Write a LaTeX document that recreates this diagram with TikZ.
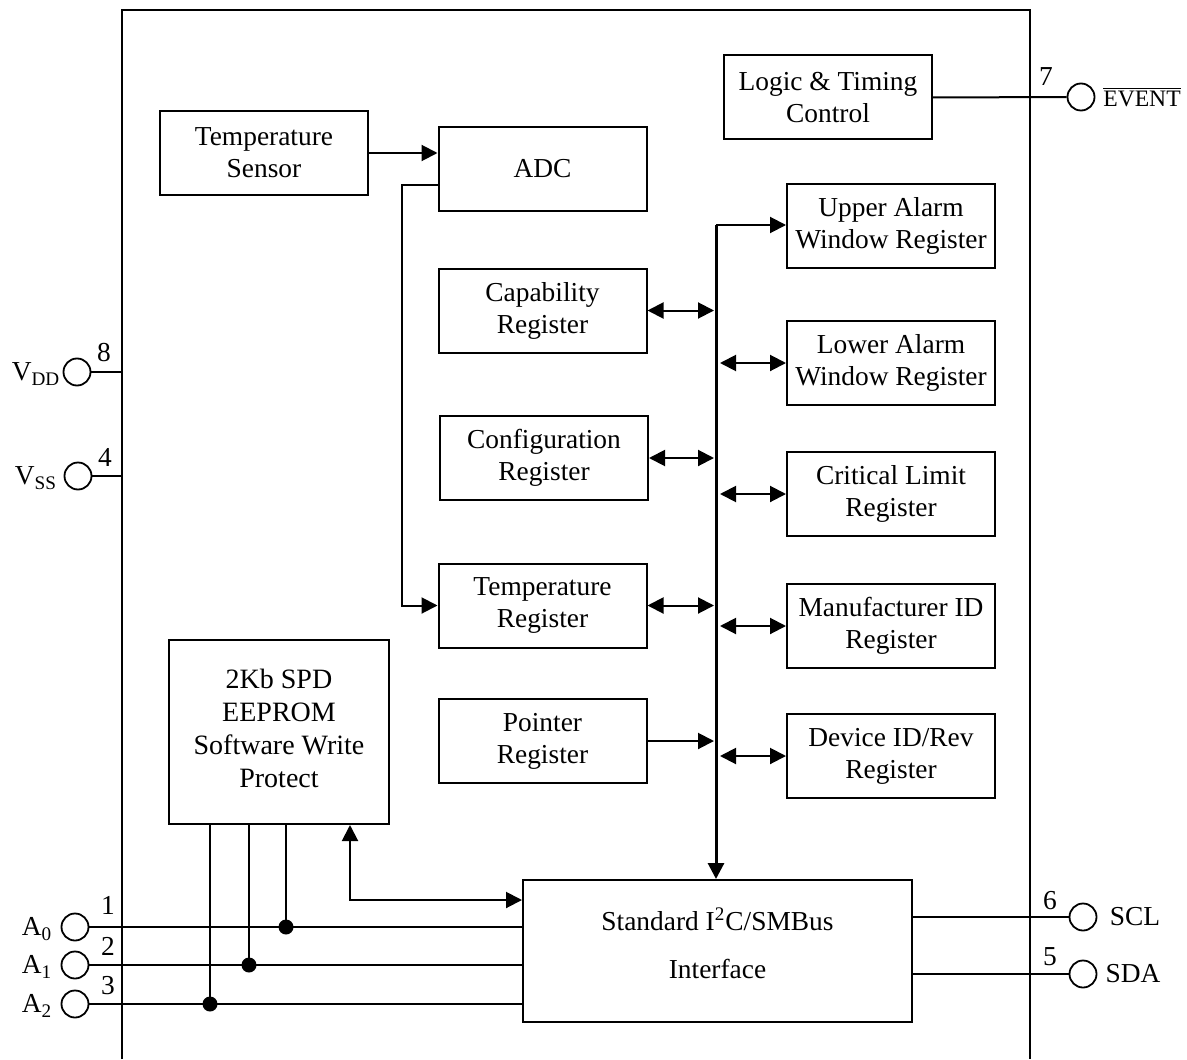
\documentclass[tikz,border=0pt]{standalone}
\usepackage{fontspec}
\setmainfont{Liberation Serif}
\usetikzlibrary{arrows.meta}
\begin{document}
\begin{tikzpicture}[x=0.5pt,y=-0.5pt,
  every node/.style={font=\fontsize{13.7}{16}\selectfont},
  blk/.style={draw,line width=1pt,align=center,inner sep=0pt,minimum width=104pt,minimum height=42pt},
  wire/.style={line width=1pt},
  arr/.style={wire,-{Triangle[length=8pt,width=8pt]}},
  barr/.style={wire,{Triangle[length=8pt,width=8pt]}-{Triangle[length=8pt,width=8pt]}},
  pin/.style={draw,circle,line width=0.9pt,minimum size=13.5pt,inner sep=0pt},
  jdot/.style={fill,circle,minimum size=7.5pt,inner sep=0pt},
  lbl/.style={inner sep=0pt}]
\useasboundingbox (0,0) rectangle (1187,1059);
% chip outline
\draw[wire] (122,1059) -- (122,10) -- (1030,10) -- (1030,1059);
% blocks
\node[blk] (logic) at (828,97.5) {Logic \& Timing\\Control};
\node[blk] (tsens) at (264,153) {Temperature\\Sensor};
\node[blk] (adc) at (542.5,169) {ADC};
\node[blk] (upper) at (891,226) {Upper Alarm\\Window Register};
\node[blk] (cap) at (542.5,310.5) {Capability\\Register};
\node[blk] (lower) at (891,363) {Lower Alarm\\Window Register};
\node[blk] (conf) at (544,458) {Configuration\\Register};
\node[blk] (crit) at (891,494) {Critical Limit\\Register};
\node[blk] (treg) at (542.5,605.5) {Temperature\\Register};
\node[blk] (manu) at (891,626) {Manufacturer ID\\Register};
\node[blk] (ptr) at (542.5,741) {Pointer\\Register};
\node[blk] (dev) at (891,756) {Device ID/Rev\\Register};
\node[blk,minimum width=110pt,minimum height=92pt] (eeprom) at (279,732) {};
\node[lbl,align=center,font=\fontsize{14}{16.5}\selectfont] (eetext) at (279,728) {2Kb SPD\\EEPROM\\Software Write\\Protect};
\node[blk,minimum width=194.5pt,minimum height=71pt] (iface) at (717.5,951) {};
\node[lbl,align=center] (iftext) at (717.5,943) {Standard I\textsuperscript{2}C/SMBus\\[8pt]Interface};
% pins
\node[pin] (vdd) at (77,372) {};
\node[pin] (vss) at (78,476) {};
\node[pin] (a0) at (75,927) {};
\node[pin] (a1) at (75,965) {};
\node[pin] (a2) at (75,1004) {};
\node[pin] (ev) at (1081,97) {};
\node[pin] (scl) at (1083,917) {};
\node[pin] (sda) at (1083,974) {};
% pin labels
\node[lbl] (lvdd) at (36,374) {V\textsubscript{DD}};
\node[lbl] (lvss) at (36,478) {V\textsubscript{SS}};
\node[lbl] (la0) at (37,929) {A\textsubscript{0}};
\node[lbl] (la1) at (37,967) {A\textsubscript{1}};
\node[lbl] (la2) at (37,1006) {A\textsubscript{2}};
\node[lbl,font=\fontsize{11.8}{14}\selectfont] (lev) at (1142,97) {$\overline{\mbox{EVENT}}$};
\node[lbl] (lscl) at (1135,917) {SCL};
\node[lbl] (lsda) at (1133,974) {SDA};
\node[lbl] (n8) at (104,353) {8};
\node[lbl] (n4) at (105,457) {4};
\node[lbl] (n1) at (108,905) {1};
\node[lbl] (n2) at (108,946) {2};
\node[lbl] (n3) at (108,986) {3};
\node[lbl] (n7) at (1046,77) {7};
\node[lbl] (n6) at (1050,901) {6};
\node[lbl] (n5) at (1050,957) {5};
% pin wires
\draw[wire] (vdd.east) -- (vdd.east -| 122,0);
\draw[wire] (vss.east) -- (vss.east -| 122,0);
\draw[wire] (logic.east) -- (ev.west);
\draw[wire] (scl.west -| iface.east) -- (scl.west);
\draw[wire] (sda.west -| iface.east) -- (sda.west);
\draw[wire] (a0.east) -- (a0.east -| iface.west);
\draw[wire] (a1.east) -- (a1.east -| iface.west);
\draw[wire] (a2.east) -- (a2.east -| iface.west);
% junctions to EEPROM
\node[jdot] (d0) at (286,927) {};
\node[jdot] (d1) at (249,965) {};
\node[jdot] (d2) at (210,1004) {};
\draw[wire] (d0.center |- eeprom.south) -- (d0.center);
\draw[wire] (d1.center |- eeprom.south) -- (d1.center);
\draw[wire] (d2.center |- eeprom.south) -- (d2.center);
% EEPROM <-> interface
\coordinate (ej) at (350,900);
\draw[barr] (ej |- eeprom.south) -- (ej) -- (ej -| iface.west);
% sensor -> ADC -> temperature register
\draw[arr] (tsens.east) -- (tsens.east -| adc.west);
\coordinate (aj) at (402,185);
\draw[arr] (aj -| adc.west) -- (aj) |- (treg.west);
% bus
\coordinate (bustop) at (716,225);
\coordinate (busL) at (714,0);
\coordinate (busR) at (720,0);
\draw[line width=1.5pt,-{Triangle[length=8pt,width=8pt]}] (bustop) -- (bustop |- iface.north);
\draw[arr] (bustop) -- (bustop -| upper.west);
\draw[barr] (cap.east) -- (cap.east -| busL);
\draw[barr] (conf.east) -- (conf.east -| busL);
\draw[barr] (treg.east) -- (treg.east -| busL);
\draw[arr] (ptr.east) -- (ptr.east -| busL);
\draw[barr] (lower.west -| busR) -- (lower.west);
\draw[barr] (crit.west -| busR) -- (crit.west);
\draw[barr] (manu.west -| busR) -- (manu.west);
\draw[barr] (dev.west -| busR) -- (dev.west);
\end{tikzpicture}
\end{document}
